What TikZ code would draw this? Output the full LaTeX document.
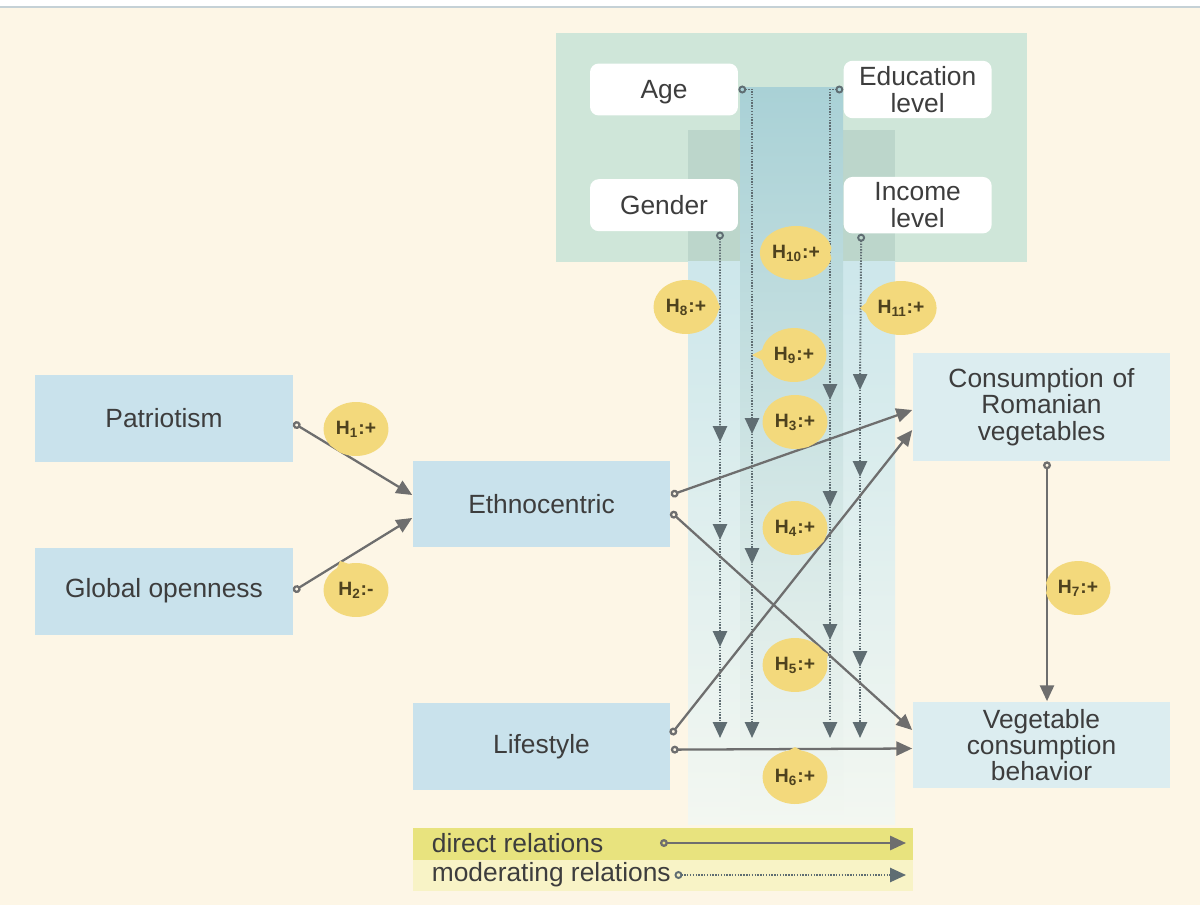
\documentclass[tikz,border=0pt]{standalone}
\usepackage{fontspec}
\setmainfont{Liberation Sans}
\usetikzlibrary{arrows.meta, positioning, shapes.callouts}

\definecolor{bgcream}{HTML}{FDF6E6}
\definecolor{boxblue}{HTML}{C9E2EC}
\definecolor{boxpale}{HTML}{DCEDF0}
\definecolor{panelgreen}{HTML}{CFE6D9}
\definecolor{colpanel}{HTML}{BCD6CB}
\definecolor{colout}{HTML}{CDE7EB}
\definecolor{colin}{HTML}{A9D1D6}
\definecolor{colfade}{HTML}{F3F7F1}
\definecolor{bubble}{HTML}{F3D97C}
\definecolor{linegray}{HTML}{6E6E6E}
\definecolor{modgray}{HTML}{5F6D72}
\definecolor{legyellow}{HTML}{E8E37E}
\definecolor{legpale}{HTML}{F8F3C6}
\definecolor{textdark}{HTML}{3D3D3D}
\definecolor{htext}{HTML}{4E421E}
\definecolor{topline}{HTML}{C5D1D6}

\newcommand{\boxfont}{\fontsize{15}{15}\selectfont}
\newcommand{\hypfont}{\fontsize{11}{13}\selectfont\bfseries}

\tikzstyle{factor} = [rectangle, fill=boxblue, minimum width=5.16cm, minimum height=1.74cm,
  text centered, text=textdark, font=\boxfont]
\tikzstyle{outcome} = [rectangle, fill=boxpale, minimum width=5.16cm, minimum height=1.74cm,
  text width=4.8cm, align=center, text=textdark, font=\boxfont]
\tikzstyle{demo} = [rectangle, fill=white, rounded corners=5pt, minimum width=2.96cm,
  minimum height=1.04cm, align=center, text=textdark, font=\boxfont]
\tikzstyle{hyp} = [ellipse callout, fill=bubble, minimum width=1.3cm, minimum height=1.08cm,
  inner sep=1pt, callout pointer arc=22, text=htext, font=\hypfont]
\tikzstyle{legtext} = [anchor=west, inner sep=2pt, text=textdark, font=\boxfont]
\tikzstyle{direct} = [line width=1.3pt, draw=linegray,
  {Circle[open, length=4.5pt, width=4.5pt]}-{Triangle[length=9pt, width=8pt]}]
\tikzstyle{modfirst} = [line width=1.1pt, draw=modgray, dash pattern=on 0.8pt off 0.8pt,
  {Circle[open, length=4.5pt, width=4.5pt]}-{Triangle[length=9pt, width=8pt]}]
\tikzstyle{modnext} = [line width=1.1pt, draw=modgray, dash pattern=on 0.8pt off 0.8pt,
  -{Triangle[length=9pt, width=8pt]}]

\begin{document}
\begin{tikzpicture}[x=0.02cm, y=-0.02cm]
    \useasboundingbox (0,0) rectangle (1200,905);
    % background, panel and moderator column
    \fill[bgcream] (0,0) rectangle (1200,905);
    \fill[white] (0,0) rectangle (1200,7);
    \draw[topline, line width=1pt] (0,7) -- (1200,7);
    \fill[panelgreen] (556,33) rectangle (1027,262);
    \fill[colpanel] (688,130) rectangle (895,262);
    \shade[top color=colout, bottom color=colfade] (688,262) rectangle (895,824);
    \shade[top color=colin, bottom color=colfade] (740,88) rectangle (843,824);

    % moderators
    \node[demo, text depth=-3pt] (age) at (664,89.5) {Age};
    \node[demo, right=2.1cm of age] (edu) {Education\\level};
    \node[demo, below=1.26cm of age] (gender) {Gender};
    \node[demo, right=2.1cm of gender] (income) {Income\\level};

    % constructs
    \node[factor] (patr) at (164,418.5) {Patriotism};
    \node[factor, below=1.7cm of patr] (glob) {Global openness};
    \node[factor] (ethno) at (541.5,504) {Ethnocentric};
    \node[factor, below=3.1cm of ethno] (life) {Lifestyle};
    \node[outcome, minimum height=2.16cm] (cons) at (1041.5,407) {Consumption of\\Romanian\\vegetables};
    \node[outcome] (behav) at (1041.5,745) {Vegetable\\consumption\\behavior};

    % moderating relations
    \coordinate (m8a) at (720,442);
    \coordinate (m8b) at (720,540);
    \coordinate (m8c) at (720,647);
    \coordinate (m8d) at (720,738);
    \coordinate (m9a) at (752,434);
    \coordinate (m9b) at (752,564);
    \coordinate (m9c) at (752,738);
    \coordinate (m10a) at (830,400);
    \coordinate (m10b) at (830,507);
    \coordinate (m10c) at (830,640);
    \coordinate (m10d) at (830,738);
    \coordinate (m11a) at (860,390);
    \coordinate (m11b) at (860,477);
    \coordinate (m11c) at (860,667);
    \coordinate (m11d) at (860,738);
    \draw[modfirst] ([xshift=1.12cm]gender.south) -- (m8a);
    \draw[modnext] (m8a) -- (m8b);
    \draw[modnext] (m8b) -- (m8c);
    \draw[modnext] (m8c) -- (m8d);
    \draw[modfirst] (age.east) -| (m9a);
    \draw[modnext] (m9a) -- (m9b);
    \draw[modnext] (m9b) -- (m9c);
    \draw[modfirst] (edu.west) -| (m10a);
    \draw[modnext] (m10a) -- (m10b);
    \draw[modnext] (m10b) -- (m10c);
    \draw[modnext] (m10c) -- (m10d);
    \draw[modfirst] ([xshift=-1.13cm]income.south) -- (m11a);
    \draw[modnext] (m11a) -- (m11b);
    \draw[modnext] (m11b) -- (m11c);
    \draw[modnext] (m11c) -- (m11d);

    % direct relations
    \draw[direct] ([yshift=-0.09cm]patr.east) -- ([yshift=0.18cm]ethno.west);
    \draw[direct] (glob.east) -- ([yshift=-0.28cm]ethno.west);
    \draw[direct] ([yshift=0.18cm]ethno.east) -- ([yshift=-0.06cm]cons.west);
    \draw[direct] ([yshift=-0.16cm]ethno.east) -- ([yshift=0.3cm]behav.west);
    \draw[direct] ([yshift=0.24cm]life.east) -- ([yshift=-0.46cm]cons.west);
    \draw[direct] ([yshift=-0.06cm]life.east) -- ([yshift=-0.07cm]behav.west);
    \draw[direct] ([xshift=0.11cm]cons.south) -- ([xshift=0.11cm]behav.north);

    % hypotheses
    \node[hyp, callout absolute pointer={(335,449)}] (h1) at (356,429) {H\textsubscript{1}:+};
    \node[hyp, callout absolute pointer={(340,561)}] (h2) at (356,590) {H\textsubscript{2}:-};
    \node[hyp, callout absolute pointer={(808,447)}] (h3) at (795,422) {H\textsubscript{3}:+};
    \node[hyp, callout absolute pointer={(824,541)}] (h4) at (795,528) {H\textsubscript{4}:+};
    \node[hyp, callout absolute pointer={(828,654)}] (h5) at (795,665) {H\textsubscript{5}:+};
    \node[hyp, callout absolute pointer={(795,747)}] (h6) at (795,777) {H\textsubscript{6}:+};
    \node[hyp, callout absolute pointer={(1047,588)}] (h7) at (1078,588) {H\textsubscript{7}:+};
    \node[hyp, callout absolute pointer={(720,307)}] (h8) at (686,307) {H\textsubscript{8}:+};
    \node[hyp, callout absolute pointer={(752,355)}] (h9) at (794,355) {H\textsubscript{9}:+};
    \node[hyp, callout absolute pointer={(830,253)}] (h10) at (796,253) {H\textsubscript{10}:+};
    \node[hyp, callout absolute pointer={(860,308)}] (h11) at (901,308) {H\textsubscript{11}:+};

    % legend
    \fill[legyellow] (413,828) rectangle (913,860);
    \fill[legpale] (413,860) rectangle (913,891);
    \node[legtext] (legd) at (428,843) {direct relations};
    \node[legtext] (legm) at (428,875) {moderating relations};
    \coordinate (legd-a) at (660,843);
    \coordinate (legd-b) at (906,843);
    \coordinate (legm-b) at (906,875);
    \draw[direct] (legd-a) -- (legd-b);
    \draw[modfirst] (legm.east) -- (legm-b);
\end{tikzpicture}
\end{document}
